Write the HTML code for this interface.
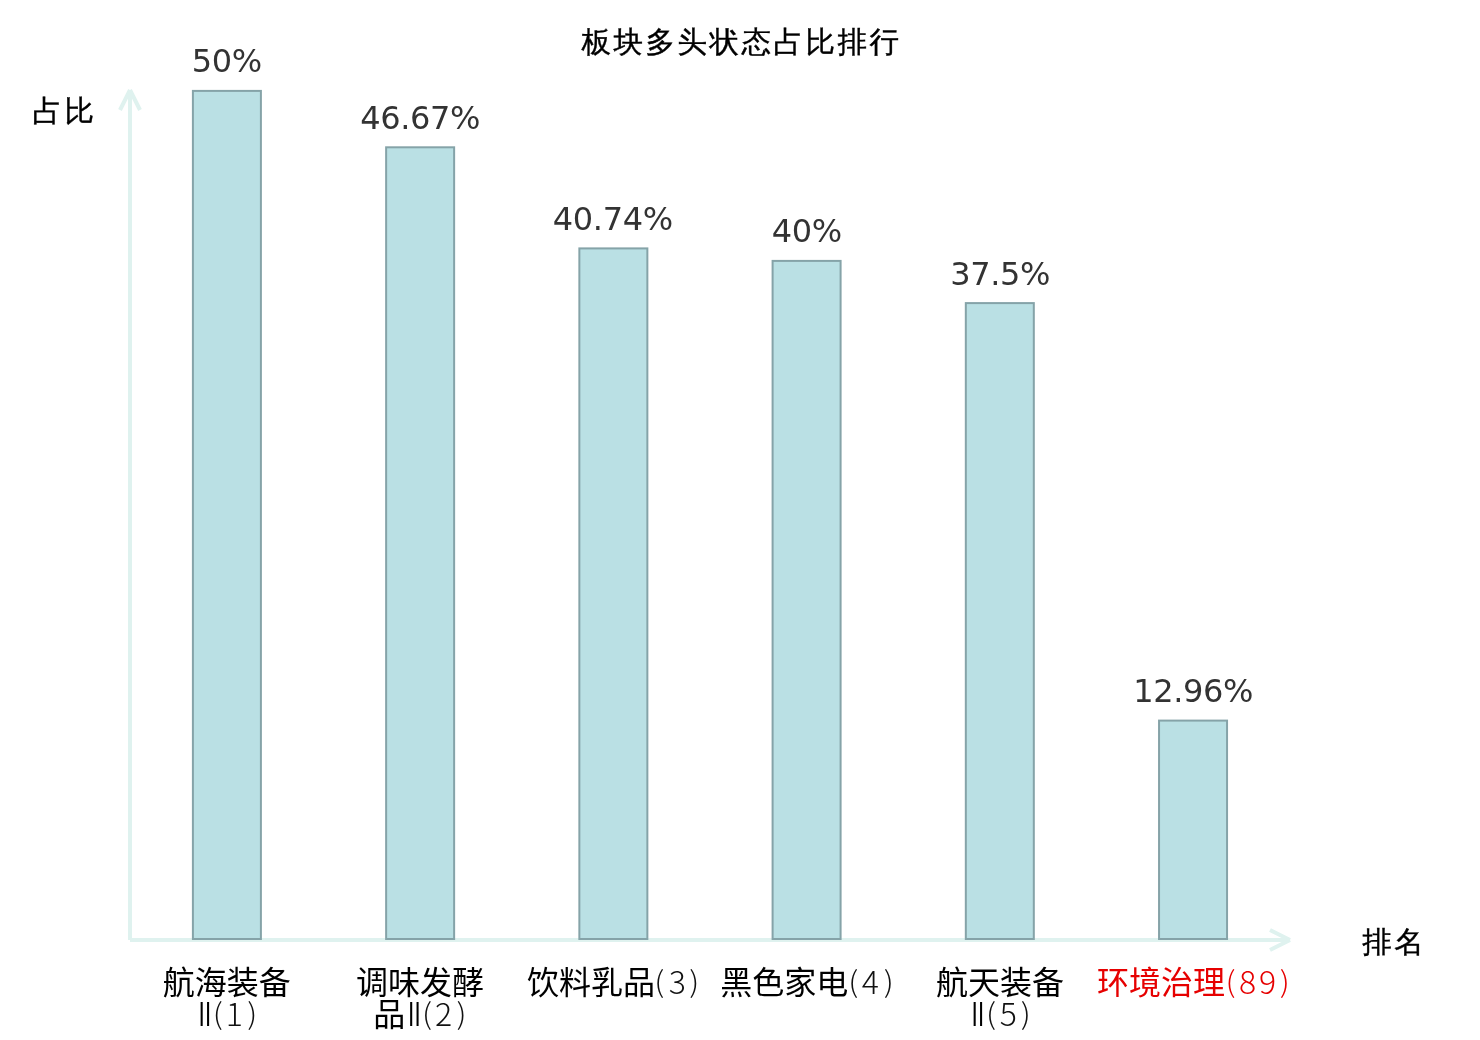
<!DOCTYPE html>
<html lang="zh-CN">
<head>
<meta charset="utf-8">
<title>板块多头状态占比排行</title>
<style>
html,body{margin:0;padding:0;background:#fff;}
body{width:1480px;height:1040px;overflow:hidden;}
svg{display:block;}
.t{font-family:"WenQuanYi Zen Hei","Noto Sans CJK SC",sans-serif;font-size:29.5px;letter-spacing:2.5px;fill:#000;stroke:#000;stroke-width:.4px;text-anchor:middle;}
.v{font-family:"DejaVu Sans","Liberation Sans",sans-serif;font-size:32px;letter-spacing:-.36px;fill:#333;text-anchor:middle;}
.x{font-family:"Noto Sans CJK SC","Liberation Sans",sans-serif;font-size:32px;fill:#000;text-anchor:middle;}
.n{font-family:"Noto Sans CJK SC","Liberation Sans",sans-serif;font-size:32px;font-weight:300;fill:#111;text-anchor:middle;}
.r{fill:#e60000;}
.bar{fill:#bae0e4;stroke:#85a3a8;stroke-width:2;}
.ax{stroke:#dff2ef;stroke-width:4;fill:none;}
</style>
</head>
<body>
<svg width="1480" height="1040" viewBox="0 0 1480 1040">
<rect width="1480" height="1040" fill="#fff"/>
<text class="t" x="741.5" y="52.3">板块多头状态占比排行</text>
<text class="t" x="64.6" y="120.5">占比</text>
<text class="t" x="1394.3" y="952.4">排名</text>
<path class="ax" d="M130 940V90M120 110L130 90M140 110L130 90"/>
<path class="ax" d="M130 940H1290M1270 930L1290 940M1270 950L1290 940"/>
<rect class="bar" x="192.90" y="90.9" width="68" height="848.1"/>
<rect class="bar" x="386.13" y="147.3" width="68" height="791.7"/>
<rect class="bar" x="579.36" y="248.4" width="68" height="690.6"/>
<rect class="bar" x="772.59" y="260.9" width="68" height="678.1"/>
<rect class="bar" x="965.82" y="303.1" width="68" height="635.9"/>
<rect class="bar" x="1159.05" y="720.6" width="68" height="218.4"/>
<text class="v" x="226.8" y="72.1">50%</text>
<text class="v" x="420.1" y="128.5">46.67%</text>
<text class="v" x="612.8" y="229.6">40.74%</text>
<text class="v" x="806.8" y="242.1">40%</text>
<text class="v" x="1000.1" y="285.4">37.5%</text>
<text class="v" x="1193.1" y="702.1">12.96%</text>
<g>
<text class="x" x="226.7" y="994">航海装备</text>
<text class="x" transform="translate(205.0,1026) scale(.68,1)">Ⅱ</text>
<text class="n" transform="translate(217.9,1023.6) scale(1,.9)">(</text>
<text class="n" x="234.2" y="1026">1</text>
<text class="n" transform="translate(252.4,1023.6) scale(1,.9)">)</text>
</g>
<g>
<text class="x" x="420.0" y="994">调味发酵</text>
<text class="x" x="389.2" y="1026">品</text>
<text class="x" transform="translate(414.3,1026) scale(.68,1)">Ⅱ</text>
<text class="n" transform="translate(427.0,1023.6) scale(1,.9)">(</text>
<text class="n" x="443.5" y="1026">2</text>
<text class="n" transform="translate(461.5,1023.6) scale(1,.9)">)</text>
</g>
<g>
<text class="x" x="591.0" y="994">饮料乳品</text>
<text class="n" transform="translate(659.4,991.6) scale(1,.9)">(</text>
<text class="n" x="677.2" y="994">3</text>
<text class="n" transform="translate(694.4,991.6) scale(1,.9)">)</text>
</g>
<g>
<text class="x" x="784.3" y="994">黑色家电</text>
<text class="n" transform="translate(853.3,991.6) scale(1,.9)">(</text>
<text class="n" x="870.2" y="994">4</text>
<text class="n" transform="translate(888.8,991.6) scale(1,.9)">)</text>
</g>
<g>
<text class="x" x="1000.0" y="994">航天装备</text>
<text class="x" transform="translate(978.0,1026) scale(.68,1)">Ⅱ</text>
<text class="n" transform="translate(991.0,1023.6) scale(1,.9)">(</text>
<text class="n" x="1008.2" y="1026">5</text>
<text class="n" transform="translate(1025.8,1023.6) scale(1,.9)">)</text>
</g>
<g>
<text class="x r" x="1160.9" y="994">环境治理</text>
<text class="n r" transform="translate(1230.5,991.6) scale(1,.9)">(</text>
<text class="n r" x="1247.5" y="994">8</text>
<text class="n r" x="1267.6" y="994">9</text>
<text class="n r" transform="translate(1284.8,991.6) scale(1,.9)">)</text>
</g>
</svg>
</body>
</html>
